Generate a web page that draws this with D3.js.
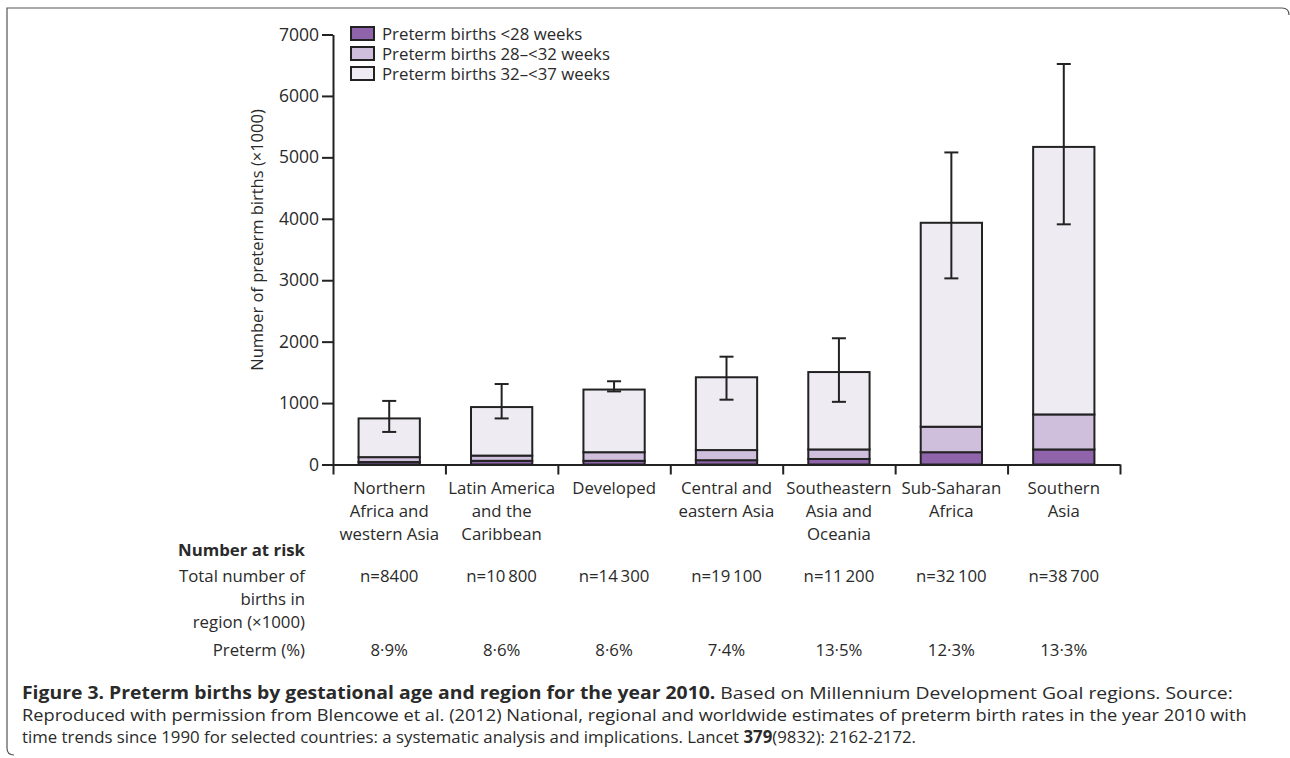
<!DOCTYPE html>
<html>
<head>
<meta charset="utf-8">
<script src="https://cdn.jsdelivr.net/npm/d3@7"></script>
<style>
  body { margin: 0; background: #fff; }
  svg text { font-family: "Open Sans", "Noto Sans", sans-serif; fill: #2a2a2a; }
</style>
</head>
<body>
<svg width="1290" height="758"></svg>
<script>
// Chart data (values x1000 births)
const regions = [
    ["Northern", "Africa and", "western Asia"],
    ["Latin America", "and the", "Caribbean"],
    ["Developed"],
    ["Central and", "eastern Asia"],
    ["Southeastern", "Asia and", "Oceania"],
    ["Sub-Saharan", "Africa"],
    ["Southern", "Asia"]
];
const lt28 = [40, 60, 60, 70, 90, 200, 245];
const w28to32 = [80, 85, 140, 165, 155, 415, 570];
const w32to37 = [630, 790, 1020, 1185, 1260, 3320, 4355];
const errLow = [530, 750, 1190, 1055, 1020, 3030, 3910];
const errHigh = [1035, 1310, 1355, 1755, 2055, 5080, 6520];
const totalBirths = ["n=8400", "n=10\u2009800", "n=14\u2009300", "n=19\u2009100", "n=11\u2009200", "n=32\u2009100", "n=38\u2009700"];
const pretermPct = ["8·9%", "8·6%", "8·6%", "7·4%", "13·5%", "12·3%", "13·3%"];
const seriesNames = ["Preterm births <28 weeks", "Preterm births 28–<32 weeks", "Preterm births 32–<37 weeks"];
const seriesColors = ["#8f64aa", "#cfbfdd", "#eeebf3"];
const yTicks = [0, 1000, 2000, 3000, 4000, 5000, 6000, 7000];

const svg = d3.select("svg");
const ink = "#222";

// frame around the figure
svg.append("path")
    .attr("d", "M1289,15 Q1289,8 1282,8 L7,8 L7,748 Q7,755 14,755")
    .attr("fill", "none")
    .attr("stroke", "#555")
    .attr("stroke-width", 1.2);

// Scales
const keys = regions.map((d, i) => i);
const xScale = d3.scaleBand()
    .domain(keys)
    .range([333, 1120])
    .paddingInner(0.455)
    .paddingOuter(0.2275);

const yScale = d3.scaleLinear()
    .domain([0, 7000])
    .range([464.5, 34.5]);

// stacked table
const rows = keys.map(i => ({ i: i, a: lt28[i], b: w28to32[i], c: w32to37[i] }));
const stack = d3.stack().keys(["a", "b", "c"])(rows);

svg.append("g")
    .selectAll("g")
    .data(stack)
    .enter()
    .append("g")
    .attr("fill", (d, k) => seriesColors[k])
    .selectAll("rect")
    .data(d => d)
    .enter()
    .append("rect")
    .attr("x", d => xScale(d.data.i))
    .attr("y", d => yScale(d[1]))
    .attr("width", xScale.bandwidth())
    .attr("height", d => yScale(d[0]) - yScale(d[1]))
    .attr("stroke", ink)
    .attr("stroke-width", 2);

// error bars
const err = svg.append("g").attr("stroke", ink).attr("stroke-width", 2);
keys.forEach(i => {
    const cx = xScale(i) + xScale.bandwidth() / 2;
    err.append("line").attr("x1", cx).attr("x2", cx)
        .attr("y1", yScale(errLow[i])).attr("y2", yScale(errHigh[i]));
    [errLow[i], errHigh[i]].forEach(v => {
        err.append("line").attr("x1", cx - 7).attr("x2", cx + 7)
            .attr("y1", yScale(v)).attr("y2", yScale(v));
    });
});

// Axes
const yAxis = svg.append("g")
    .attr("transform", "translate(333,0)")
    .call(d3.axisLeft(yScale).tickValues(yTicks).tickFormat(d3.format("d")).tickSize(11).tickSizeOuter(0).tickPadding(3));

const edge = d3.scaleLinear().domain([0, regions.length]).range([333, 1120]);
const xAxis = svg.append("g")
    .attr("transform", "translate(0,464.5)")
    .call(d3.axisBottom(edge).tickValues(d3.range(regions.length + 1)).tickFormat("").tickSize(10).tickSizeOuter(0));

[yAxis, xAxis].forEach(g => {
    g.select(".domain").attr("stroke", ink).attr("stroke-width", 2);
    g.selectAll(".tick line").attr("stroke", ink).attr("stroke-width", 2);
});
yAxis.selectAll(".tick text")
    .attr("font-size", 17.5)
    .attr("font-family", "Open Sans")
    .attr("fill", "#2a2a2a");

svg.append("text")
    .attr("transform", "translate(263,240) rotate(-90)")
    .attr("text-anchor", "middle")
    .attr("font-size", 16.5)
    .text("Number of preterm births (×1000)");

// category labels
const catG = svg.append("g").attr("font-size", 16.8).attr("text-anchor", "middle");
regions.forEach((lines, i) => {
    const cx = xScale(i) + xScale.bandwidth() / 2;
    lines.forEach((t, j) => {
        catG.append("text").attr("x", cx).attr("y", 494 + j * 23).text(t);
    });
    catG.append("text").attr("x", cx).attr("y", 582).text(totalBirths[i]);
    catG.append("text").attr("x", cx).attr("y", 656).text(pretermPct[i]);
});

// table row headers
const head = svg.append("g").attr("font-size", 16.8).attr("text-anchor", "end");
head.append("text").attr("x", 305).attr("y", 556).attr("font-weight", "bold").text("Number at risk");
[["Total number of", 582], ["births in", 605], ["region (×1000)", 628], ["Preterm (%)", 656]].forEach(r => {
    head.append("text").attr("x", 305).attr("y", r[1]).text(r[0]);
});

// legend
const legend = svg.append("g");
seriesNames.forEach((name, k) => {
    legend.append("rect")
        .attr("x", 351).attr("y", 27 + k * 20)
        .attr("width", 23).attr("height", 13)
        .attr("fill", seriesColors[k])
        .attr("stroke", ink).attr("stroke-width", 2);
    legend.append("text")
        .attr("x", 382).attr("y", 39.5 + k * 20)
        .attr("font-size", 16.8)
        .text(name);
});

// caption
const caption = [
    [["Figure 3. Preterm births by gestational age and region for the year 2010.", true], [" Based on Millennium Development Goal regions. Source:", false]],
    [["Reproduced with permission from Blencowe et al. (2012) National, regional and worldwide estimates of preterm birth rates in the year 2010 with", false]],
    [["time trends since 1990 for selected countries: a systematic analysis and implications. Lancet ", false], ["379", true], ["(9832): 2162-2172.", false]]
];
const captionWidths = [1211, 1225, 895];
caption.forEach((parts, li) => {
    const t = svg.append("text")
        .attr("x", 22).attr("y", 699 + li * 22)
        .attr("font-size", 17);
    parts.forEach(p => {
        t.append("tspan").attr("font-weight", p[1] ? "bold" : null).text(p[0]);
    });
    const w = t.node().getComputedTextLength();
    t.attr("transform", `translate(22,0) scale(${captionWidths[li] / w},1) translate(-22,0)`);
});
</script>
</body>
</html>
